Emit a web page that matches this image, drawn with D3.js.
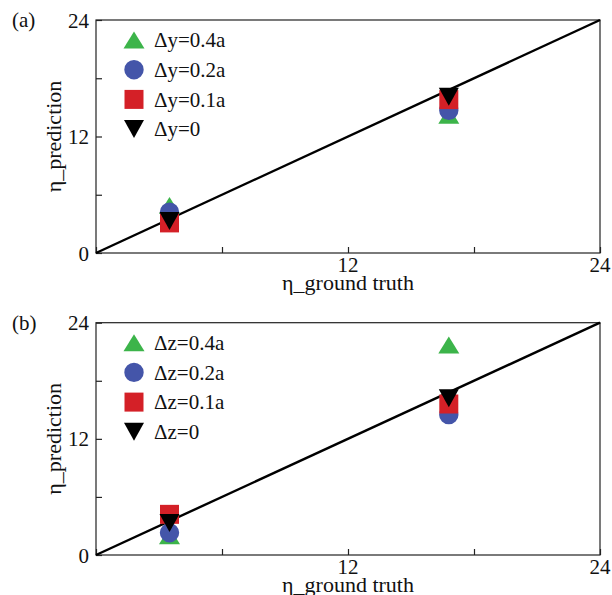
<!DOCTYPE html>
<html><head><meta charset="utf-8">
<script src="https://cdn.jsdelivr.net/npm/d3@7"></script>
<style>body{margin:0;background:#fff}svg{display:block}</style>
</head><body>
<svg id="c" width="612" height="595"></svg>
<script>
const groundTruth = [3.5, 16.8];
const panelLabels = ["(a)", "(b)"];
const seriesNamesA = ["\u0394y=0.4a", "\u0394y=0.2a", "\u0394y=0.1a", "\u0394y=0"];
const seriesNamesB = ["\u0394z=0.4a", "\u0394z=0.2a", "\u0394z=0.1a", "\u0394z=0"];
const valuesA = [[4.9, 14.2], [4.2, 14.7], [3.1, 15.8], [3.3, 16.1]];
const valuesB = [[2.0, 21.7], [2.3, 14.5], [4.2, 15.6], [3.3, 16.2]];
const tickValues = [0, 6, 12, 18, 24];
const xTickLabels = [12, 24];
const yTickLabels = [0, 12, 24];
const domain = [0, 24];
const xTitle = "\u03b7_ground truth";
const yTitle = "\u03b7_prediction";

const shapes = ["up", "circle", "square", "down"];
const colors = ["#3cb44a", "#4455a9", "#d42027", "#000000"];
const FONT = "Liberation Serif";

function shapePath(type) {
  if (type === "up") return "M0,-8.5L10.5,8.5L-10.5,8.5Z";
  if (type === "down") return "M0,9L10,-9L-10,-9Z";
  if (type === "square") return "M-9.5,-9.5H9.5V9.5H-9.5Z";
  return d3.symbol(d3.symbolCircle, Math.PI * 9.7 * 9.7)();
}

const svg = d3.select("#c");

function txt(g, size) {
  return g.append("text").style("font-family", FONT).attr("font-size", size).attr("fill", "#111");
}

function panel(top, bottom, label, names, values) {
  const x = d3.scaleLinear().domain(domain).range([96, 600]);
  const y = d3.scaleLinear().domain(domain).range([bottom, top]);
  const g = svg.append("g");

  g.append("rect").attr("x", x(0)).attr("y", y(24))
    .attr("width", x(24) - x(0)).attr("height", y(0) - y(24))
    .attr("fill", "none").attr("stroke", "#222").attr("stroke-width", 1.2);

  const xa = d3.axisTop(x).tickValues(tickValues).tickSize(6).tickFormat("");
  g.append("g").attr("transform", `translate(0,${y(0)})`).call(xa)
    .call(s => { s.select(".domain").remove(); s.selectAll("line").attr("stroke", "#222").attr("stroke-width", 1.2); });
  const ya = d3.axisRight(y).tickValues(tickValues).tickSize(6).tickFormat("");
  g.append("g").attr("transform", `translate(${x(0)},0)`).call(ya)
    .call(s => { s.select(".domain").remove(); s.selectAll("line").attr("stroke", "#222").attr("stroke-width", 1.2); });

  xTickLabels.forEach(d => {
    txt(g, 21).attr("x", x(d)).attr("y", y(0) + 19).attr("text-anchor", "middle").text(d);
  });
  yTickLabels.forEach(d => {
    txt(g, 21).attr("x", x(0) - 7).attr("y", y(d)).attr("dy", "0.36em").attr("text-anchor", "end").text(d);
  });

  txt(g, 22).attr("x", 348).attr("y", y(0) + 36.5).attr("text-anchor", "middle").text(xTitle);
  txt(g, 22).attr("transform", `translate(61,${(y(0) + y(24)) / 2}) rotate(-90)`)
    .attr("text-anchor", "middle").text(yTitle);
  txt(g, 21).attr("x", 12).attr("y", y(24) + 7).text(label);

  g.append("line").attr("x1", x(0)).attr("y1", y(0)).attr("x2", x(24)).attr("y2", y(24))
    .attr("stroke", "#000").attr("stroke-width", 2.4);

  values.forEach((vals, i) => {
    g.selectAll(null).data(vals).join("path")
      .attr("d", shapePath(shapes[i]))
      .attr("transform", (d, j) => `translate(${x(groundTruth[j])},${y(d)})`)
      .attr("fill", colors[i]);
  });

  names.forEach((n, i) => {
    const ly = y(24) + 20 + i * 29.7;
    g.append("path").attr("d", shapePath(shapes[i])).attr("transform", `translate(134,${ly})`).attr("fill", colors[i]);
    txt(g, 21).attr("x", 154).attr("y", ly).attr("dy", "0.35em").text(n);
  });
}

panel(20, 253, panelLabels[0], seriesNamesA, valuesA);
panel(322.7, 555, panelLabels[1], seriesNamesB, valuesB);
</script>
</body></html>
